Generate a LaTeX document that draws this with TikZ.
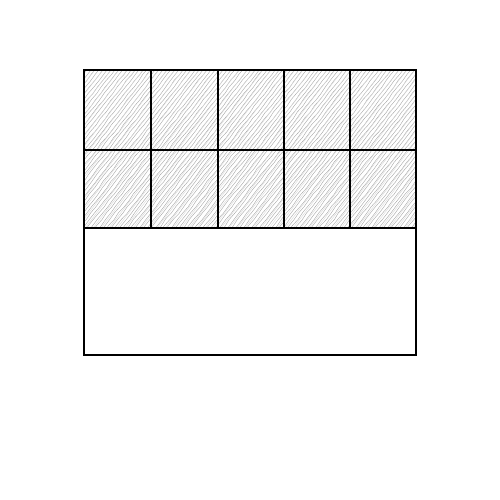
\documentclass[tikz,border=0pt]{standalone}
\usetikzlibrary{decorations.pathmorphing}
\begin{document}
\begin{tikzpicture}[x=0.75pt,y=-0.75pt,
  frame/.style={draw=black,line width=1.9pt},
  hatch/.style={draw=black!35,line width=0.3pt,decorate,decoration={random steps,segment length=6pt,amplitude=0.4pt}}]
\useasboundingbox (0,0) rectangle (500,500);
\begin{scope}
  \clip (84,70) rectangle (416,228);
  \foreach \i in {-160,-156,...,420} {
    \draw[hatch] (\i,232) -- (\i+130,66);
  }
  \foreach \i in {-158,-150,...,420} {
    \draw[draw=black!15,line width=0.3pt] (\i,232) -- (\i+128,66);
  }
\end{scope}
\draw[frame] (84,70) rectangle (416,355);
\draw[frame] (84,150) -- (416,150);
\draw[frame] (84,228) -- (416,228);
\foreach \x in {151,218,284,350} {
  \draw[frame] (\x,70) -- (\x,228);
}
\end{tikzpicture}
\end{document}
